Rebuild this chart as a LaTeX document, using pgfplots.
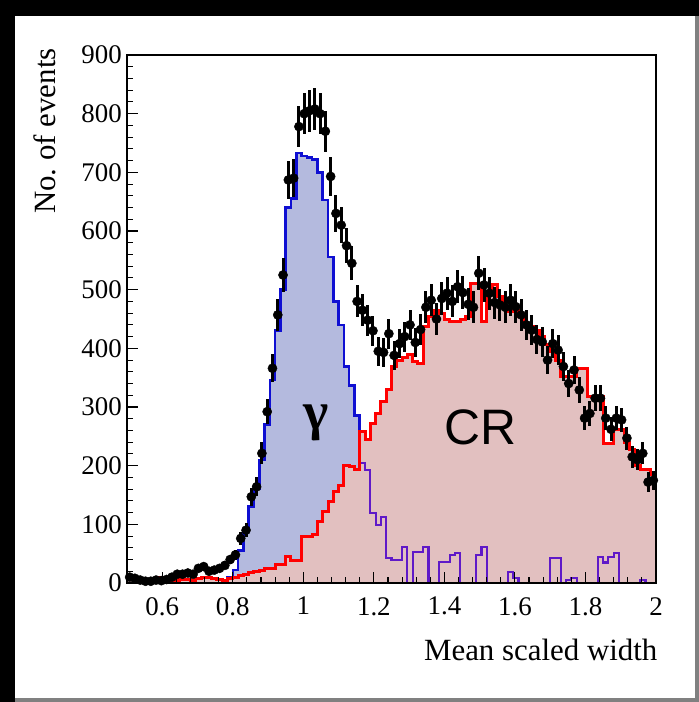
\documentclass[border=0pt]{standalone}
\usepackage{pgfplots}
\pgfplotsset{compat=1.18}
\usepackage{pgfplotstable}
\usepackage{fontspec}
\setmainfont{Liberation Serif}
\newfontfamily\sansf{Liberation Sans}

\definecolor{gfill}{RGB}{180,186,222}
\definecolor{rfill}{RGB}{226,192,192}
\definecolor{gline}{RGB}{15,15,210}
\definecolor{pline}{RGB}{95,25,200}
\definecolor{frgray}{RGB}{128,128,128}

% histogram bins: left edge, gamma, CR  (last row = right edge of last bin)
\pgfplotstableread{
x g r
0.500 0 8
0.515 0 6
0.530 0 5
0.545 0 5
0.560 0 3
0.575 0 3
0.590 0 10
0.605 0 4
0.620 0 5
0.635 0 5
0.650 0 6
0.665 0 6
0.680 0 5
0.695 0 8
0.710 0 10
0.725 0 10
0.740 0 8
0.755 0 6
0.770 5 5
0.785 10 8
0.800 22 10
0.815 55 12
0.830 90 14
0.845 130 18
0.860 160 20
0.875 210 22
0.890 270 25
0.905 346 25
0.920 430 31
0.935 500 31
0.950 640 45
0.965 655 39
0.980 733 39
0.995 728 79
1.010 725 79
1.025 722 82
1.040 700 105
1.055 653 122
1.070 556 139
1.085 480 156
1.100 440 167
1.115 369 200
1.130 337 198
1.145 286 193
1.160 204 258
1.175 193 244
1.190 119 272
1.205 99 289
1.220 113 309
1.235 42 329
1.250 39 369
1.265 39 380
1.280 62 385
1.295 0 390
1.310 53 378
1.325 53 374
1.340 62 437
1.355 0 454
1.370 0 465
1.385 36 460
1.400 36 450
1.415 48 445
1.430 51 445
1.445 0 450
1.460 0 455
1.475 0 511
1.490 48 511
1.505 62 445
1.520 0 491
1.535 0 508
1.550 0 488
1.565 0 470
1.580 19 462
1.595 8 465
1.610 0 455
1.625 0 443
1.640 0 437
1.655 0 430
1.670 0 420
1.685 0 406
1.700 42 395
1.715 42 380
1.730 0 352
1.745 5 352
1.760 8 352
1.775 0 366
1.790 0 366
1.805 0 318
1.820 0 318
1.835 45 318
1.850 35 238
1.865 45 238
1.880 51 261
1.895 0 261
1.910 0 240
1.925 0 227
1.940 0 200
1.955 5 193
1.970 0 193
1.985 0 185
2.000 0 185
}\histtab

% data points: bin centre, counts, error
\pgfplotstableread{
x y ey
0.5075 10 4
0.5225 8 3.5
0.5375 5 2.8
0.5525 3 2.2
0.5675 3 2.2
0.5825 5 2.8
0.5975 4 2.5
0.6125 6 3
0.6275 10 4
0.6425 15 4.8
0.6575 15 4.8
0.6725 17 5.2
0.6875 15 4.8
0.7025 25 6.2
0.7175 28 6.6
0.7325 20 5.6
0.7475 22 5.9
0.7625 25 6.2
0.7775 30 6.8
0.7925 40 7.9
0.8075 48 8.7
0.8225 76 10.9
0.8375 90 11.9
0.8525 147 15.2
0.8675 164 16
0.8825 221 18.6
0.8975 292 21.4
0.9125 366 23.9
0.9275 457 26.7
0.9425 525 28.6
0.9575 687 32.8
0.9725 690 32.8
0.9875 778 34.9
1.0025 800 35.4
1.0175 805 35.5
1.0325 808 35.5
1.0475 800 35.4
1.0625 770 34.7
1.0775 693 32.9
1.0925 630 31.4
1.1075 610 30.9
1.1225 575 30
1.1375 545 29.2
1.1525 480 27.4
1.1675 465 27
1.1825 448 26.5
1.1975 430 25.9
1.2125 395 24.8
1.2275 393 24.8
1.2425 425 25.8
1.2575 388 24.6
1.2725 408 25.2
1.2875 420 25.6
1.3025 440 26.2
1.3175 410 25.3
1.3325 432 26
1.3475 470 27.1
1.3625 482 27.4
1.3775 450 26.5
1.3925 485 27.5
1.4075 494 27.8
1.4225 480 27.4
1.4375 505 28.1
1.4525 495 27.8
1.4675 475 27.2
1.4825 470 27.1
1.4975 528 28.7
1.5125 508 28.2
1.5275 494 27.8
1.5425 478 27.3
1.5575 474 27.2
1.5725 470 27.1
1.5875 482 27.4
1.6025 471 27.1
1.6175 457 26.7
1.6325 440 26.2
1.6475 431 26
1.6625 415 25.5
1.6775 411 25.3
1.6925 380 24.4
1.7075 408 25.2
1.7225 397 24.9
1.7375 369 24
1.7525 340 23
1.7675 363 23.8
1.7825 329 22.7
1.7975 281 21
1.8125 289 21.3
1.8275 315 22.2
1.8425 315 22.2
1.8575 281 21
1.8725 262 20.2
1.8875 281 21
1.9025 278 20.8
1.9175 247 19.6
1.9325 215 18.3
1.9475 210 18.1
1.9625 221 18.6
1.9775 172 16.4
1.9925 175 16.5
}\datatab

\begin{document}
\begin{tikzpicture}
% frame
\fill[black] (-127bp,-119bp) rectangle (572bp,583bp);
\fill[frgray] (-112bp,-119bp) rectangle (572bp,567bp);
\fill[white] (-112bp,-115bp) rectangle (568bp,567bp);
\begin{axis}[
  at={(0,0)}, anchor=south west,
  scale only axis, width=529bp, height=528bp,
  xmin=0.5, xmax=2, ymin=0, ymax=900,
  xtick={0.6,0.8,1,1.2,1.4,1.6,1.8,2},
  xticklabels={0.6,0.8,1,1.2,1.4,1.6,1.8,2},
  ytick={0,100,200,300,400,500,600,700,800,900},
  minor x tick num=4, minor y tick num=4,
  tick align=inside, xtick pos=left, ytick pos=left,
  major tick length=11bp, minor tick length=6bp,
  tick style={black, line width=1.1bp},
  axis line style={line width=1.6bp},
  axis on top,
  /pgf/number format/assume math mode=true,
  tick label style={font=\fontsize{27}{27}\selectfont},
  yticklabel style={anchor=east, inner sep=0pt, xshift=-5bp},
  xticklabel style={anchor=north, inner sep=0pt, yshift=-14bp},
  xlabel={Mean scaled width},
  ylabel={No.\ of events},
  label style={font=\fontsize{31}{31}\selectfont, inner sep=0pt},
  xlabel style={at={(axis description cs:1.003,-0.127)}, anchor=east},
  ylabel style={at={(axis description cs:-0.155,1.013)}, anchor=east, rotate=0},
]
% gamma fill
\addplot[fill=gfill, draw=none, const plot mark left] table[x=x, y=g] {\histtab} \closedcycle;
% CR fill
\addplot[fill=rfill, draw=none, const plot mark left] table[x=x, y=r] {\histtab} \closedcycle;
% gamma outline (blue part)
\addplot[gline, line width=2.6bp, const plot mark left, skip coords between index={45}{200}] table[x=x, y=g] {\histtab};
% gamma outline (under CR)
\addplot[pline, line width=2.2bp, const plot mark left, skip coords between index={0}{44}] table[x=x, y=g] {\histtab};
% CR outline
\addplot[red, line width=3bp, const plot mark left] table[x=x, y=r] {\histtab};
% data
\addplot[only marks, mark=*, mark size=4.6bp, mark options={fill=black, draw=black},
  error bars/.cd, y dir=both, y explicit, x dir=both, x fixed=0.0075,
  error bar style={line width=3bp, black}, error mark=none]
  table[x=x, y=y, y error=ey] {\datatab};
\node[anchor=base, inner sep=0pt] at (axis cs:1.036,262) {\fontsize{54}{54}\selectfont\bfseries γ};
\node[anchor=base, inner sep=0pt] at (axis cs:1.501,236) {\sansf\fontsize{50}{50}\selectfont CR};
\end{axis}
\pgfresetboundingbox
\path (-127bp,-119bp) rectangle (572bp,583bp);
\end{tikzpicture}
\end{document}
